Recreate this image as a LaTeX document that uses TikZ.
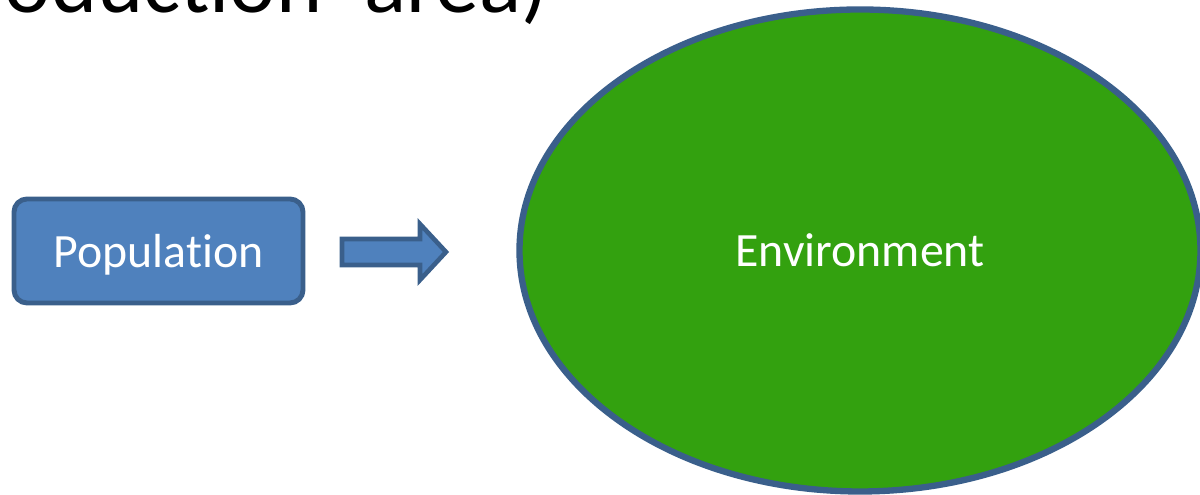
\documentclass[tikz,border=0pt]{standalone}
\usepackage{fontspec}
\setmainfont[Ligatures=NoCommon]{Carlito}
\usepackage{xcolor}
\definecolor{bleupop}{HTML}{4F81BD}
\definecolor{bleufonce}{HTML}{3A5F8B}
\definecolor{vertenv}{HTML}{33A10F}
\usetikzlibrary{positioning,shapes.geometric}

\begin{document}
\begin{tikzpicture}[
  pop/.style={draw=bleufonce,fill=bleupop,line width=1.4pt,rounded corners=0.13cm,minimum width=2.89cm,minimum height=1.04cm,text depth=0pt,text=white,font=\fontsize{13.6}{16}\selectfont},
  envir/.style={ellipse,draw=bleufonce,fill=vertenv,line width=1.8pt,minimum width=6.81cm,minimum height=4.82cm,text=white,font=\fontsize{13.6}{16}\selectfont},
  fl/.style={draw=bleufonce,fill=bleupop,line width=1.3pt}
]
% cadre
\useasboundingbox (0,0) rectangle (12,-4.95);
\clip (0,0) rectangle (12,-4.95);
% titre coupe
\node[anchor=base west,inner sep=0pt,font=\fontsize{25}{30}\selectfont] (titre) at (0.04,-0.13) {oduction' area)};
% blocs
\node[pop] (popul) at (1.585,-2.51) {Population};
\node[envir] (env) at (8.60,-2.505) {\raisebox{-0.3ex}{Environment}};
% fleche pleine
\coordinate (fl0) at (3.42,-2.52);
\draw[fl] (fl0) ++(0,0.13) -- ++(0.78,0) -- ++(0,0.15) -- ++(0.26,-0.28)
  -- ++(-0.26,-0.28) -- ++(0,0.15) -- ++(-0.78,0) -- cycle;
\end{tikzpicture}
\end{document}
